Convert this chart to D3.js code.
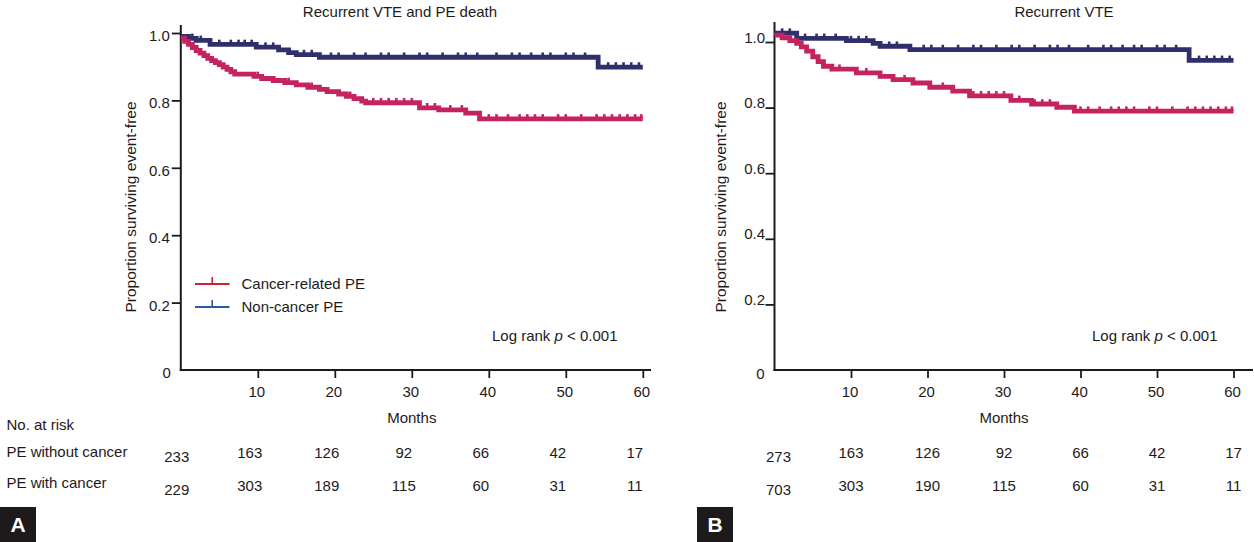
<!DOCTYPE html>
<html><head><meta charset="utf-8">
<script src="https://cdn.jsdelivr.net/npm/d3@7"></script>
<style>
html,body{margin:0;padding:0;background:#fff;}
svg{display:block;font-family:"Liberation Sans",Arial,sans-serif;}
</style></head><body>
<svg id="chart" width="1254" height="542"></svg>
<script>
// ---------- DATA ----------
const months = [0, 10, 20, 30, 40, 50, 60];
const xTickValues = [10, 20, 30, 40, 50, 60];
const yTickValues = [0, 0.2, 0.4, 0.6, 0.8, 1.0];
const panelTitles = ["Recurrent VTE and PE death", "Recurrent VTE"];
const panelLetters = ["A", "B"];
const seriesNames = ["Cancer-related PE", "Non-cancer PE"];
const riskHeader = "No. at risk";
const riskGroups = ["PE without cancer", "PE with cancer"];
const xLabel = "Months";
const yLabel = "Proportion surviving event-free";
const logRankText = ["Log rank ", "p", " < 0.001"];

const riskA_noCancer = [233, 163, 126, 92, 66, 42, 17];
const riskA_cancer   = [229, 303, 189, 115, 60, 31, 11];
const riskB_noCancer = [273, 163, 126, 92, 66, 42, 17];
const riskB_cancer   = [703, 303, 190, 115, 60, 31, 11];

// Panel A – Kaplan-Meier steps (time in months, survival proportion)
const aNonCancerT = [0, 1.0, 2.0, 3.8, 9.8, 12.7, 14, 15, 18, 54.2, 60];
const aNonCancerS = [0.99, 0.984, 0.978, 0.966, 0.958, 0.950, 0.942, 0.936, 0.928, 0.899, 0.899];
const aCancerT = [0, 0.5, 1, 1.5, 2, 2.5, 3, 3.5, 4, 4.5, 5, 5.5, 6, 6.5, 7, 9.5, 10.5, 12, 13.5, 15, 16.5, 18, 19, 20.5, 21.5, 22.5, 23.5, 24, 31, 33.5, 37, 38.8, 60];
const aCancerS = [0.985, 0.975, 0.966, 0.957, 0.948, 0.940, 0.933, 0.925, 0.918, 0.912, 0.906, 0.899, 0.892, 0.885, 0.878, 0.871, 0.865, 0.859, 0.853, 0.846, 0.839, 0.833, 0.826, 0.819, 0.812, 0.805, 0.798, 0.793, 0.778, 0.772, 0.762, 0.745, 0.745];
const aNonCancerCensor = [1.5, 2.6, 5, 6.5, 7.5, 8.3, 9.2, 11, 12, 16, 17, 19.5, 20.5, 22.5, 24, 26, 27, 29, 31, 32, 34, 36, 37, 38.5, 41, 43, 44, 45.5, 47, 48, 50, 51, 52.5, 55.5, 56.5, 57.5, 58.5, 59.5];
const aCancerCensor = [10, 14, 17, 22, 25, 26, 27, 28, 29, 30, 32, 33, 35, 36.5, 40, 41, 42.5, 44, 45, 46, 47, 49, 50, 52, 54, 55, 56, 57, 58, 59, 59.8];

// Panel B
const bNonCancerT = [0, 2.9, 9.4, 12.9, 13.8, 17.7, 54.2, 60];
const bNonCancerS = [1.027, 1.011, 1.004, 0.996, 0.987, 0.977, 0.944, 0.944];
const bCancerT = [0, 1, 2, 2.9, 3.5, 4.2, 5, 5.7, 6.4, 7.5, 10.7, 13.8, 15.5, 18.1, 20.3, 23.3, 25.5, 30.9, 33.6, 36.9, 39.2, 60];
const bCancerS = [1.021, 1.013, 1.004, 0.996, 0.985, 0.972, 0.955, 0.940, 0.926, 0.917, 0.906, 0.895, 0.885, 0.875, 0.862, 0.850, 0.836, 0.822, 0.811, 0.801, 0.789, 0.789];
const bNonCancerCensor = [1, 2, 4, 5.5, 6.5, 8, 10, 11, 12, 15, 16, 19.5, 20.5, 22, 24, 26, 27, 29, 31, 32, 34, 36, 37, 38.5, 41, 43, 44, 45.5, 47, 48, 50, 51, 52.5, 55.5, 56.5, 57.5, 58.5, 59.5];
const bCancerCensor = [8.5, 12, 17, 22, 26, 27, 28, 29, 30, 32, 34, 35, 36, 40, 41, 42.5, 44, 45, 46, 47, 49, 50, 52, 54, 55, 56, 57, 58, 59, 59.8];

// ---------- STYLE / LAYOUT ----------
const ink = "#1e1a1b";
const cancerColor = "#c5235f";
const nonCancerColor = "#2f2f6c";
const legendRed = "#d0202f";
const legendBlue = "#2b5aa2";
const fs = 15;

const panels = [
  { title: panelTitles[0], letter: panelLetters[0],
    xRange: [180.8, 642.8], yRange: [370, 33], yTop: 25, xEnd: 651,
    titleX: 400, yLabelX: 130, letterX: 0, logX: 492,
    labelBaseline: false, tableShift: -8, firstShift: -4,
    risk: [riskA_noCancer, riskA_cancer],
    nonT: aNonCancerT, nonS: aNonCancerS, canT: aCancerT, canS: aCancerS,
    nonC: aNonCancerCensor, canC: aCancerCensor, legend: true },
  { title: panelTitles[1], letter: panelLetters[1],
    xRange: [774.5, 1233.5], yRange: [370, 42], yTop: 22, xEnd: 1253,
    titleX: 1064, yLabelX: 720, letterX: 697, logX: 1092,
    labelBaseline: true, tableShift: 0, firstShift: 4,
    risk: [riskB_noCancer, riskB_cancer],
    nonT: bNonCancerT, nonS: bNonCancerS, canT: bCancerT, canS: bCancerS,
    nonC: bNonCancerCensor, canC: bCancerCensor, legend: false }
];

const svg = d3.select("#chart");

panels.forEach(p => {
  const x = d3.scaleLinear().domain([0, 60]).range(p.xRange);
  const y = d3.scaleLinear().domain([0, 1]).range(p.yRange);
  const g = svg.append("g");
  const x0 = x(0);

  // title
  g.append("text").attr("x", p.titleX).attr("y", 17).attr("text-anchor", "middle")
    .attr("font-size", fs).attr("fill", ink).text(p.title);

  // y label
  g.append("text").attr("transform", `translate(${p.yLabelX},207) rotate(-90)`)
    .attr("text-anchor", "middle").attr("dominant-baseline", "central")
    .attr("font-size", 15.5).attr("fill", ink).text(yLabel);

  // Y axis
  const yAxis = d3.axisLeft(y).tickValues(yTickValues).tickSize(9)
    .tickPadding(p.labelBaseline ? 0.5 : 2)
    .tickFormat(d => d === 0 ? "0" : d3.format(".1f")(d));
  const ya = g.append("g").attr("transform", `translate(${x0},0)`).call(yAxis);
  ya.select(".domain").remove();
  ya.selectAll(".tick line").attr("stroke", ink).attr("stroke-width", 1.8)
    .attr("display", d => d === 0 ? "none" : null);
  ya.selectAll(".tick text").attr("font-size", fs).attr("fill", ink)
    .attr("font-family", "Liberation Sans, Arial, sans-serif")
    .attr("dy", d => p.labelBaseline ? (d === 0 ? "0.55em" : "0em") : "0.5em");
  ya.selectAll(".tick text").filter(d => d === 0).attr("x", -10);
  g.append("line").attr("x1", x0).attr("x2", x0).attr("y1", p.yTop).attr("y2", y(0) + 1)
    .attr("stroke", ink).attr("stroke-width", 2);

  // X axis
  const xAxis = d3.axisBottom(x).tickValues(xTickValues).tickSize(8).tickPadding(8)
    .tickFormat(d3.format("d"));
  const xa = g.append("g").attr("transform", `translate(0,${y(0)})`).call(xAxis);
  xa.select(".domain").remove();
  xa.selectAll(".tick line").attr("stroke", ink).attr("stroke-width", 1.8);
  xa.selectAll(".tick text").attr("font-size", fs).attr("fill", ink)
    .attr("font-family", "Liberation Sans, Arial, sans-serif").attr("x", -1.5);
  g.append("line").attr("x1", x0 - 1).attr("x2", p.xEnd).attr("y1", y(0)).attr("y2", y(0))
    .attr("stroke", ink).attr("stroke-width", 2);

  // curves
  const line = d3.line().x(d => x(d[0])).y(d => y(d[1])).curve(d3.curveStepAfter);
  const series = [
    { t: p.nonT, s: p.nonS, c: p.nonC, color: nonCancerColor },
    { t: p.canT, s: p.canS, c: p.canC, color: cancerColor }
  ];
  series.forEach(se => {
    const pts = se.t.map((t, i) => [t, se.s[i]]);
    g.append("path").datum(pts).attr("d", line).attr("fill", "none")
      .attr("stroke", se.color).attr("stroke-width", 4.8);
    const valAt = t => se.s[Math.max(0, d3.bisectRight(se.t, t) - 1)];
    g.selectAll(null).data(se.c).enter().append("line")
      .attr("x1", d => x(d)).attr("x2", d => x(d))
      .attr("y1", d => y(valAt(d))).attr("y2", d => y(valAt(d)) - 4.8)
      .attr("stroke", se.color).attr("stroke-width", 2.6);
  });

  // log rank
  const lr = g.append("text").attr("x", p.logX).attr("y", 341).attr("font-size", fs).attr("fill", ink);
  lr.append("tspan").text(logRankText[0]);
  lr.append("tspan").attr("font-style", "italic").text(logRankText[1]);
  lr.append("tspan").text(logRankText[2]);

  // legend
  if (p.legend) {
    const items = [{ name: seriesNames[0], color: legendRed, y: 284 },
                   { name: seriesNames[1], color: legendBlue, y: 307 }];
    items.forEach(it => {
      g.append("line").attr("x1", 195).attr("x2", 229.5).attr("y1", it.y).attr("y2", it.y)
        .attr("stroke", it.color).attr("stroke-width", 2);
      g.append("line").attr("x1", 212.2).attr("x2", 212.2).attr("y1", it.y).attr("y2", it.y - 7)
        .attr("stroke", it.color).attr("stroke-width", 1.6);
      g.append("text").attr("x", 241.5).attr("y", it.y + 4.5).attr("font-size", fs)
        .attr("fill", ink).text(it.name);
    });
  }

  // months label
  g.append("text").attr("x", x(30)).attr("y", 423.3).attr("text-anchor", "middle")
    .attr("font-size", fs).attr("fill", ink).text(xLabel);

  // risk table
  const rowBase = [458, 491];
  p.risk.forEach((row, ri) => {
    g.selectAll(null).data(row).enter().append("text")
      .attr("x", (d, i) => x(months[i]) + (i === 0 ? p.firstShift : p.tableShift))
      .attr("y", (d, i) => rowBase[ri] + (i === 0 ? 3.5 : 0))
      .attr("text-anchor", "middle").attr("font-size", fs).attr("fill", ink)
      .text(d => d);
  });

  // panel letter
  g.append("rect").attr("x", p.letterX).attr("y", 507).attr("width", 36).attr("height", 35).attr("fill", ink);
  g.append("text").attr("x", p.letterX + 18).attr("y", 532).attr("text-anchor", "middle")
    .attr("font-size", 21).attr("font-weight", "bold").attr("fill", "#fff").text(p.letter);
});

// row labels (left only)
svg.append("text").attr("x", 6.5).attr("y", 430).attr("font-size", fs).attr("fill", ink).text(riskHeader);
svg.append("text").attr("x", 6.5).attr("y", 456.7).attr("font-size", fs).attr("fill", ink).text(riskGroups[0]);
svg.append("text").attr("x", 6.5).attr("y", 488.3).attr("font-size", fs).attr("fill", ink).text(riskGroups[1]);
</script>
</body></html>
